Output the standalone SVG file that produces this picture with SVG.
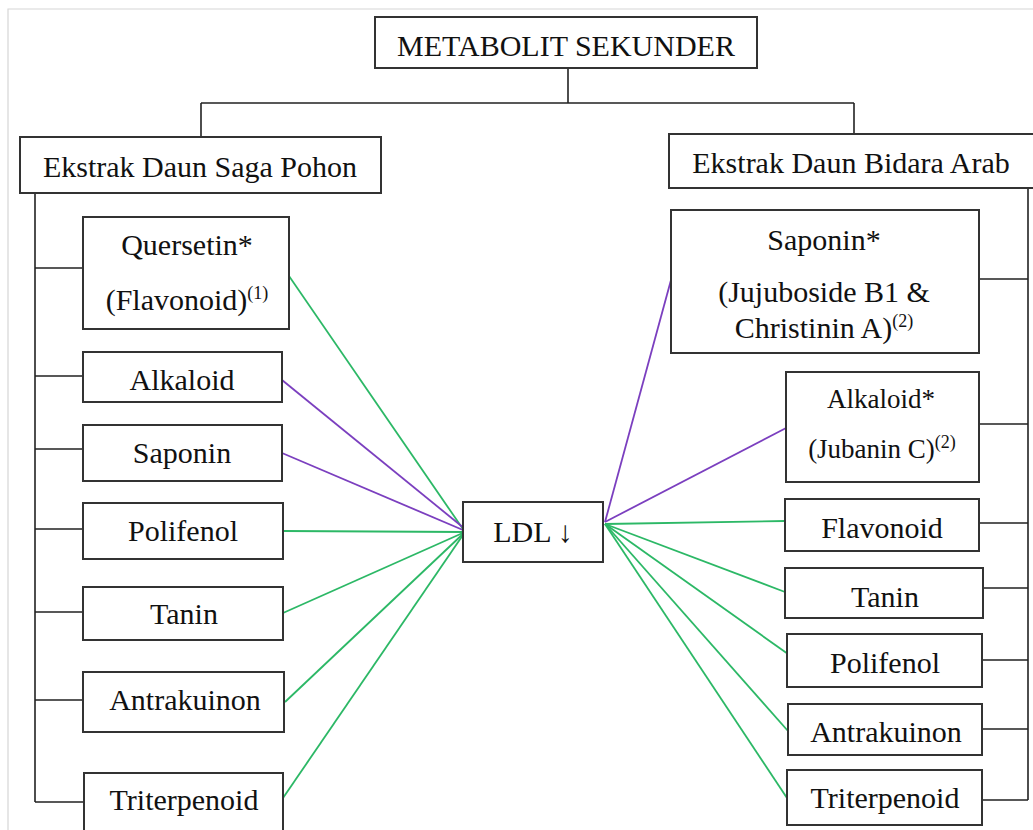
<svg xmlns="http://www.w3.org/2000/svg" width="1033" height="830" viewBox="0 0 1033 830">
  <style>
    .box { fill: #ffffff; stroke: #333333; stroke-width: 2; }
    .tree { fill: none; stroke: #222222; stroke-width: 1.6; }
    .lbl { font-family: "Liberation Serif", "Times New Roman", serif; font-size: 30px; fill: #111111; text-anchor: middle; }
    .small { font-size: 27px; }
    .sup { font-size: 18px; }
    .green { stroke: #2cb866; stroke-width: 1.8; fill: none; }
    .purple { stroke: #7b3fbf; stroke-width: 1.8; fill: none; }
    .frame { stroke: #d6d6d6; stroke-width: 1.2; fill: none; }
  </style>
  <rect x="0" y="0" width="1033" height="830" fill="#ffffff"/>
  <path class="frame" d="M8,830 V9 H1033"/>

  <!-- hierarchy lines -->
  <g id="tree">
    <path class="tree" d="M568,68 V103 M201,103 H854 M201,103 V137 M854,103 V134"/>
    <path class="tree" d="M35,193 V802 M35,268 H83 M35,376 H83 M35,449 H83 M35,529 H83 M35,612 H83 M35,700 H83 M35,802 H84"/>
    <path class="tree" d="M1028,188 V800 M979,279 H1028 M979,424 H1028 M979,523 H1028 M983,588 H1028 M982,660 H1028 M982,729 H1028 M982,800 H1028"/>
  </g>

  <!-- connectors into LDL -->
  <g id="connectors">
    <line class="green" x1="289" y1="276" x2="465" y2="532"/>
    <line class="purple" x1="282" y1="380" x2="470" y2="533"/>
    <line class="purple" x1="282" y1="453" x2="470" y2="533"/>
    <line class="green" x1="283" y1="531" x2="465" y2="532"/>
    <line class="green" x1="283" y1="613" x2="465" y2="532"/>
    <line class="green" x1="285" y1="702" x2="465" y2="532"/>
    <line class="green" x1="283" y1="798" x2="465" y2="532"/>
    <line class="purple" x1="605" y1="522" x2="671" y2="280"/>
    <line class="purple" x1="605" y1="522" x2="788" y2="427"/>
    <line class="green" x1="605" y1="524" x2="785" y2="521"/>
    <line class="green" x1="605" y1="524" x2="785" y2="592"/>
    <line class="green" x1="605" y1="524" x2="788" y2="654"/>
    <line class="green" x1="605" y1="524" x2="788" y2="731"/>
    <line class="green" x1="605" y1="524" x2="787" y2="798"/>
  </g>

  <g id="metabolit">
    <rect class="box" x="375" y="17" width="382" height="51"/>
    <text class="lbl" x="566" y="56">METABOLIT SEKUNDER</text>
  </g>
  <g id="saga">
    <rect class="box" x="20" y="137" width="361" height="56"/>
    <text class="lbl" x="200" y="177">Ekstrak Daun Saga Pohon</text>
  </g>
  <g id="bidara">
    <rect class="box" x="669" y="134" width="380" height="54"/>
    <text class="lbl" x="851" y="173">Ekstrak Daun Bidara Arab</text>
  </g>

  <!-- left column -->
  <g id="l-quersetin">
    <rect class="box" x="83" y="217" width="206" height="112"/>
    <text class="lbl" x="187" y="255">Quersetin*</text>
    <text class="lbl" x="187" y="310">(Flavonoid)<tspan class="sup" dy="-11">(1)</tspan></text>
  </g>
  <g id="l-alkaloid">
    <rect class="box" x="83" y="352" width="199" height="50"/>
    <text class="lbl" x="182" y="390">Alkaloid</text>
  </g>
  <g id="l-saponin">
    <rect class="box" x="83" y="425" width="199" height="56"/>
    <text class="lbl" x="182" y="463">Saponin</text>
  </g>
  <g id="l-polifenol">
    <rect class="box" x="83" y="503" width="200" height="56"/>
    <text class="lbl" x="183" y="541">Polifenol</text>
  </g>
  <g id="l-tanin">
    <rect class="box" x="83" y="587" width="200" height="53"/>
    <text class="lbl" x="184" y="624">Tanin</text>
  </g>
  <g id="l-antrakuinon">
    <rect class="box" x="83" y="672" width="201" height="60"/>
    <text class="lbl" x="185" y="710">Antrakuinon</text>
  </g>
  <g id="l-triterpenoid">
    <rect class="box" x="84" y="773" width="199" height="60"/>
    <text class="lbl" x="184" y="810">Triterpenoid</text>
  </g>

  <!-- centre -->
  <g id="ldl">
    <rect class="box" x="463" y="502" width="140" height="60"/>
    <text class="lbl" x="533" y="542">LDL ↓</text>
  </g>

  <!-- right column -->
  <g id="r-saponin">
    <rect class="box" x="671" y="210" width="308" height="143"/>
    <text class="lbl" x="824" y="250">Saponin*</text>
    <text class="lbl" x="824" y="302">(Jujuboside B1 &amp;</text>
    <text class="lbl" x="824" y="338">Christinin A)<tspan class="sup" dy="-11">(2)</tspan></text>
  </g>
  <g id="r-alkaloid">
    <rect class="box" x="786" y="372" width="193" height="110"/>
    <text class="lbl small" x="881" y="408">Alkaloid*</text>
    <text class="lbl small" x="882" y="458">(Jubanin C)<tspan class="sup" dy="-10">(2)</tspan></text>
  </g>
  <g id="r-flavonoid">
    <rect class="box" x="785" y="499" width="194" height="52"/>
    <text class="lbl" x="882" y="538">Flavonoid</text>
  </g>
  <g id="r-tanin">
    <rect class="box" x="785" y="568" width="198" height="50"/>
    <text class="lbl" x="885" y="607">Tanin</text>
  </g>
  <g id="r-polifenol">
    <rect class="box" x="787" y="634" width="195" height="53"/>
    <text class="lbl" x="885" y="673">Polifenol</text>
  </g>
  <g id="r-antrakuinon">
    <rect class="box" x="788" y="704" width="194" height="51"/>
    <text class="lbl" x="886" y="742">Antrakuinon</text>
  </g>
  <g id="r-triterpenoid">
    <rect class="box" x="787" y="770" width="195" height="55"/>
    <text class="lbl" x="885" y="808">Triterpenoid</text>
  </g>
</svg>
